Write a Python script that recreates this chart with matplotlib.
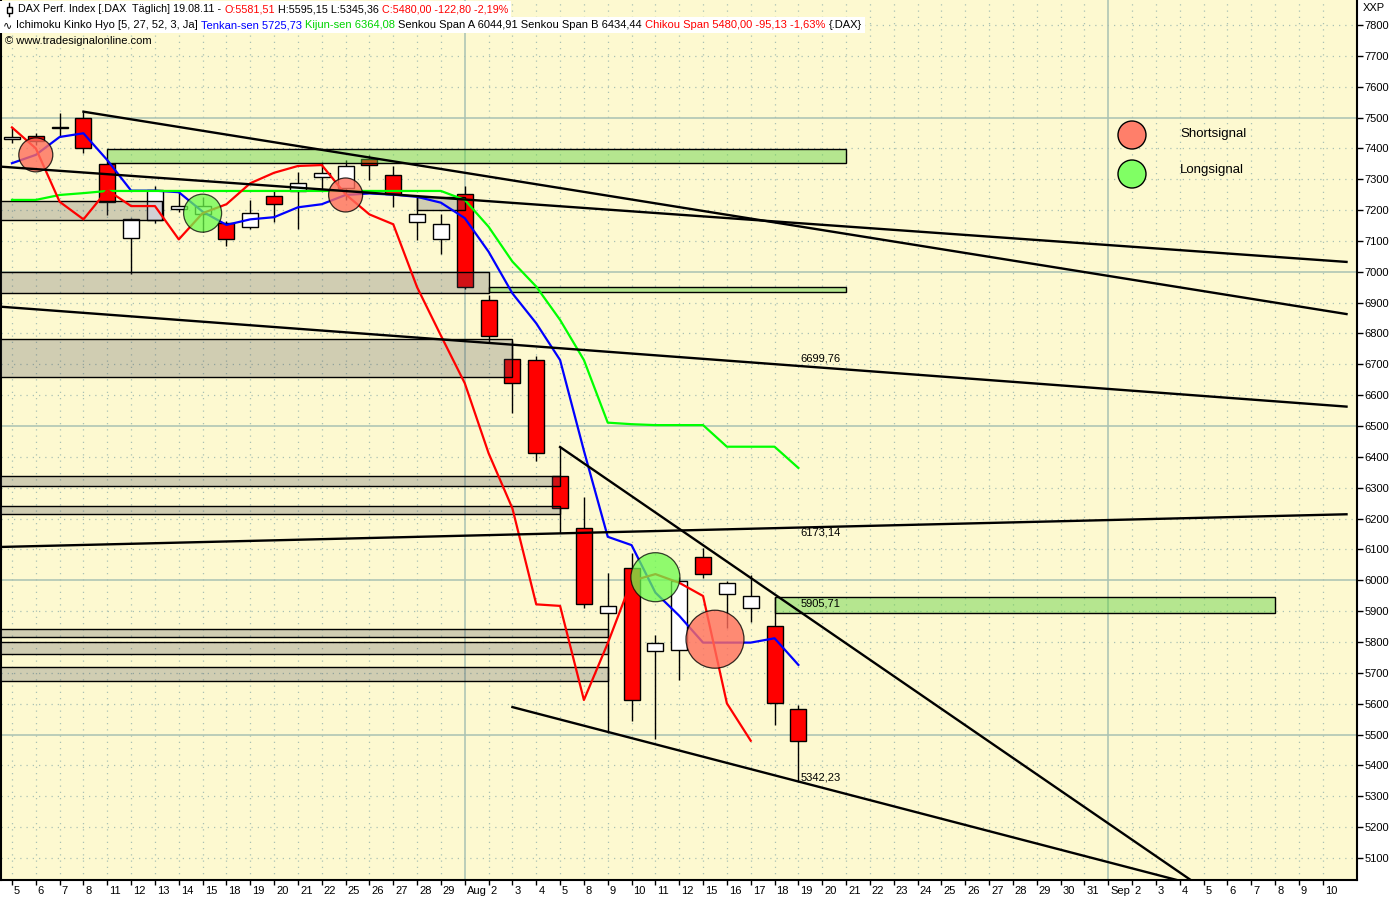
import matplotlib
matplotlib.use('Agg')
import matplotlib.pyplot as plt
from matplotlib.patches import Rectangle, Circle
from matplotlib.lines import Line2D
from matplotlib.transforms import IdentityTransform, blended_transform_factory, ScaledTranslation

W, H, DPI = 1400, 900, 100
FONT = ['Liberation Sans', 'DejaVu Sans']
plt.rcParams['font.family'] = FONT

# ---------------- data ----------------
x_labels = ['5', '6', '7', '8', '11', '12', '13', '14', '15', '18', '19', '20', '21', '22', '25', '26', '27', '28', '29',
            'Aug', '2', '3', '4', '5', '8', '9', '10', '11', '12', '15', '16', '17', '18', '19',
            '20', '21', '22', '23', '24', '25', '26', '27', '28', '29', '30', '31',
            'Sep', '2', '3', '4', '5', '6', '7', '8', '9', '10']

opens = [7430, 7440, 7465, 7498, 7349, 7109, 7168, 7203, 7187, 7159, 7144, 7247, 7263, 7306, 7271, 7365, 7313,
         7160, 7105, 7251, 6909, 6717, 6714, 6338, 6168, 5893, 6039, 5771, 5774, 6075, 5955, 5909, 5852, 5581.51]
highs = [7470, 7450, 7514, 7519, 7352, 7175, 7278, 7265, 7243, 7165, 7233, 7263, 7324, 7357, 7362, 7379, 7343,
         7243, 7187, 7278, 6925, 6775, 6727, 6432, 6271, 6023, 6087, 5823, 6012, 6104, 5997, 6017, 5947, 5595.15]
lows = [7418, 7410, 7438, 7386, 7184, 6993, 7159, 7195, 7130, 7084, 7138, 7162, 7138, 7265, 7233, 7298, 7211,
        7103, 7058, 6945, 6770, 6541, 6388, 6152, 5909, 5505, 5545, 5485, 5677, 6006, 5846, 5866, 5531, 5345.36]
closes = [7436, 7425, 7468, 7400, 7227, 7170, 7265, 7213, 7213, 7105, 7190, 7219, 7287, 7321, 7343, 7346, 7251,
          7186, 7154, 6950, 6793, 6639, 6412, 6233, 5922, 5917, 5612, 5796, 5998, 6020, 5992, 5949, 5601, 5480.00]

tenkan = [7352, 7379, 7437, 7449, 7362, 7263, 7263, 7258, 7195, 7152, 7170, 7177, 7209, 7219, 7249, 7254, 7250,
          7243, 7224, 7174, 7065, 6930, 6833, 6714, 6420, 6141, 6114, 5960, 5885, 5798, 5798, 5798, 5812, 5725.73]
kijun = [7233, 7233, 7249, 7255, 7262, 7262, 7262, 7262, 7262, 7262, 7262, 7262, 7262, 7262, 7262, 7262, 7262,
         7262, 7262, 7233, 7146, 7033, 6952, 6844, 6714, 6511, 6506, 6503, 6503, 6503, 6433, 6433, 6433, 6364.08]
chikou = [7468, 7400, 7227, 7170, 7265, 7213, 7213, 7105, 7190, 7219, 7287, 7321, 7343, 7346, 7251, 7186,
          7154, 6950, 6793, 6639, 6412, 6233, 5922, 5917, 5612, 5796, 5998, 6020, 5992, 5949, 5601, 5480]

# trend lines (bar index, price)
trend_x0 = [3, -0.5, -0.5, -0.5, 23, 21]
trend_y0 = [7519, 7341, 6887, 6108, 6432, 5589]
trend_x1 = [56, 56, 56, 56, 50, 50]
trend_y1 = [6863, 7032, 6563, 6214, 5000, 5006]

# support / resistance zones
grey_x0 = [-0.5, 17, -0.5, -0.5, -0.5, -0.5, -0.5, -0.5, -0.5]
grey_x1 = [6.3, 19, 20, 21, 23, 23, 25, 25, 25]
grey_lo = [7168, 7200, 6930, 6660, 6306, 6215, 5817, 5760, 5675]
grey_hi = [7230, 7243, 6998, 6781, 6339, 6241, 5841, 5800, 5718]
green_x0 = [4, 20, 32]
green_x1 = [35, 35, 53]
green_lo = [7352, 6936, 5893]
green_hi = [7397, 6950, 5947]

# signals
short_x = [1, 14, 29.5]
short_y = [7379, 7249, 5809]
short_r = [17, 17, 29]
long_x = [8, 27]
long_y = [7190, 6010]
long_r = [19, 24.5]

level_values = [6699.76, 6173.14, 5905.71, 5342.23]
level_va = ['bottom', 'top', 'bottom', 'bottom']

# ---------------- figure ----------------
fig = plt.figure(figsize=(W / DPI, H / DPI), dpi=DPI, facecolor='white')
ax = fig.add_axes([1 / W, 20 / H, 1356 / W, 880 / H])
ax.set_facecolor('#fdf9d0')

GRID = '#a9c1b3'
for v in range(5100, 7900, 100):
    if v % 500 == 0:
        ax.axhline(v, color=GRID, lw=1.1, zorder=1)
    else:
        ax.axhline(v, color=GRID, lw=0.9, ls=(0, (1, 4)), zorder=1)
for i, lab in enumerate(x_labels):
    if lab in ('Aug', 'Sep'):
        ax.axvline(i, color=GRID, lw=1.1, zorder=1)
    else:
        ax.axvline(i, color=GRID, lw=0.9, ls=(0, (1, 4)), zorder=1)

# candles
BW = 0.67
for i, (o, h, l, c) in enumerate(zip(opens, highs, lows, closes)):
    ax.plot([i, i], [l, h], color='black', lw=1, zorder=2, solid_capstyle='butt')
    b0, b1 = min(o, c), max(o, c)
    ax.add_patch(Rectangle((i - BW / 2, b0), BW, max(b1 - b0, 2),
                           facecolor='#ff0000' if c < o else 'white',
                           edgecolor='black', lw=1, zorder=3))

# zones
for x0, x1, lo, hi in zip(grey_x0, grey_x1, grey_lo, grey_hi):
    ax.add_patch(Rectangle((x0, lo), x1 - x0, hi - lo, facecolor=(0.29, 0.29, 0.35, 0.25),
                           edgecolor='black', lw=1, zorder=4))
for x0, x1, lo, hi in zip(green_x0, green_x1, green_lo, green_hi):
    ax.add_patch(Rectangle((x0, lo), x1 - x0, hi - lo, facecolor=(0.37, 0.82, 0.25, 0.45),
                           edgecolor='black', lw=1, zorder=4))

# ichimoku lines
ax.plot(range(len(tenkan)), tenkan, color='#0000ff', lw=1.6, zorder=5)
ax.plot(range(len(kijun)), kijun, color='#00ff00', lw=1.6, zorder=5)
ax.plot(range(len(chikou)), chikou, color='#ff0000', lw=1.6, zorder=5)


def s_from_r(r):
    return (2 * r * 72 / DPI) ** 2


ax.scatter(short_x, short_y, s=[s_from_r(r) for r in short_r], facecolor='#ff6e5c',
           edgecolor='black', linewidths=0.9, alpha=0.8, zorder=6)
ax.scatter(long_x, long_y, s=[s_from_r(r) for r in long_r], facecolor='#6cfb4c',
           edgecolor='black', linewidths=0.9, alpha=0.75, zorder=6)

# trend lines
for x0, y0, x1, y1 in zip(trend_x0, trend_y0, trend_x1, trend_y1):
    ax.plot([x0, x1], [y0, y1], color='black', lw=1.7, zorder=7)

# level labels
last = len(closes) - 1
for val, va in zip(level_values, level_va):
    off = 1 if va == 'bottom' else -1
    tr = ax.transData + ScaledTranslation(2 / DPI, off / DPI, fig.dpi_scale_trans)
    ax.text(last, val, f"{val:.2f}".replace('.', ','), transform=tr, ha='left', va=va,
            fontsize=8, color='black', zorder=8)

ax.set_xlim(-0.46, 56.44)
ax.set_ylim(5028.5, 7881)

# axes styling
for side in ('left', 'bottom', 'right'):
    ax.spines[side].set_color('black')
    ax.spines[side].set_linewidth(1.5)
ax.spines['top'].set_visible(False)

ax.yaxis.tick_right()
ax.set_yticks(range(5100, 7900, 100))
ax.tick_params(axis='y', direction='out', length=4.3, width=1, pad=1, labelsize=8)
ax.set_xticks(range(len(x_labels)))
ax.set_xticklabels([])
ax.tick_params(axis='x', direction='out', length=3.6, width=1)

trx = blended_transform_factory(ax.transData, ax.transAxes) + ScaledTranslation(2 / DPI, -5.5 / DPI, fig.dpi_scale_trans)
for i, lab in enumerate(x_labels):
    ax.text(i, 0, lab, transform=trx, ha='left', va='top', fontsize=8, clip_on=False)

fig.text(1363, H - 8, 'XXP', transform=IdentityTransform(), fontsize=8, va='center', ha='left')

# legend
IDT = IdentityTransform()
fig.add_artist(Circle((1132, H - 135), 14, transform=IDT, facecolor='#ff7f6a', edgecolor='black', lw=1, zorder=6))
fig.add_artist(Circle((1132, H - 174), 14, transform=IDT, facecolor='#80ff64', edgecolor='black', lw=1, zorder=6))
fig.text(1180, H - 134, 'Shortsignal', transform=IDT, fontsize=9.5, va='center', ha='left', zorder=7)
fig.text(1180, H - 170, 'Longsignal', transform=IDT, fontsize=9.5, va='center', ha='left', zorder=7)

# header
renderer = fig.canvas.get_renderer()


def text_w(s, fs):
    t = fig.text(0, 0, s, fontsize=fs, transform=IDT)
    w = t.get_window_extent(renderer).width
    t.remove()
    return w


RED, BLUE, GREEN, BLK = '#ff0000', '#0000ff', '#00d400', 'black'
line1 = [("DAX Perf. Index [.DAX  Täglich] 19.08.11 -", BLK), ("O:5581,51", RED),
         ("H:5595,15 L:5345,36", BLK), ("C:5480,00 -122,80 -2,19%", RED)]
line2 = [("Ichimoku Kinko Hyo [5, 27, 52, 3, Ja]", BLK), ("Tenkan-sen 5725,73", BLUE),
         ("Kijun-sen 6364,08", GREEN), ("Senkou Span A 6044,91 Senkou Span B 6434,44", BLK),
         ("Chikou Span 5480,00 -95,13 -1,63%", RED), ("{.DAX}", BLK)]


def runs_width(runs, fs):
    sp = text_w('a a', fs) - text_w('aa', fs)
    return sum(text_w(s, fs) for s, _ in runs) + sp * (len(runs) - 1)


fs2 = max(6.5, min(9.0, 8 * (862 - 16) / runs_width(line2, 8)))
fs1 = max(6.5, min(9.0, 8 * (505 - 18) / runs_width(line1, 8)))


def draw_runs(x0, yc, runs, fs):
    sp = text_w('a a', fs) - text_w('aa', fs)
    x = x0
    for s, col in runs:
        t = fig.text(x, H - yc, s, transform=IDT, color=col, fontsize=fs, va='center', ha='left', zorder=10)
        x = t.get_window_extent(renderer).x1 + sp
    return x


w1 = 18 + runs_width(line1, fs1)
w2 = 16 + runs_width(line2, fs2)
fig.add_artist(Rectangle((0, H - 17), w1 + 3, 16, transform=IDT, facecolor='white', edgecolor='none', zorder=9))
fig.add_artist(Rectangle((0, H - 33), w2 + 3, 16, transform=IDT, facecolor='white', edgecolor='none', zorder=9))
draw_runs(18, 9, line1, fs1)
draw_runs(16, 25, line2, fs2)
fig.text(5, H - 41, '© www.tradesignalonline.com', transform=IDT, fontsize=fs2, va='center', ha='left', zorder=10)
fig.text(3, H - 25, '∿', transform=IDT, fontsize=fs2, va='center', ha='left', zorder=10, family='DejaVu Sans')
# candlestick icon
fig.add_artist(Line2D([9, 9], [H - 3, H - 16], transform=IDT, color='black', lw=1, zorder=10))
fig.add_artist(Rectangle((6.5, H - 13), 5, 6, transform=IDT, facecolor='white', edgecolor='black', lw=1, zorder=11))

fig.savefig('out.png', dpi=DPI, facecolor='white')
